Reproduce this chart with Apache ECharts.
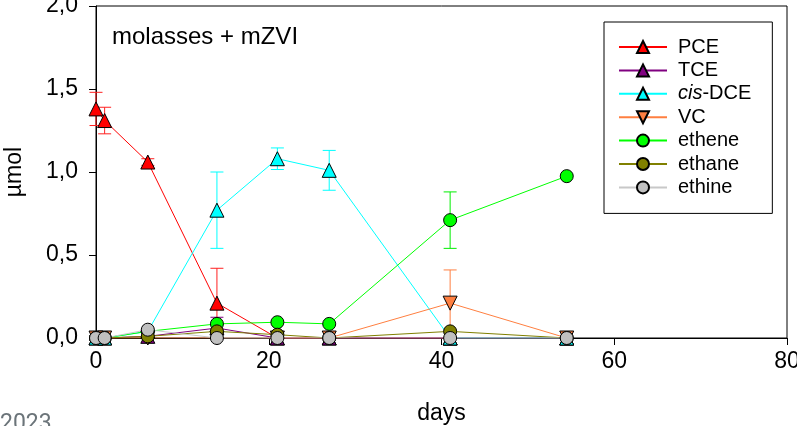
<!DOCTYPE html>
<html>
<head>
<meta charset="utf-8">
<script src="https://cdn.jsdelivr.net/npm/echarts@6/dist/echarts.min.js"></script>
<style>
  html, body { margin: 0; padding: 0; background: #fff; }
  #main { width: 797px; height: 426px; }
</style>
</head>
<body>
<div id="main"></div>
<script>
// sampling days
var days = [0, 1, 6, 14, 21, 27, 41, 54.5];

// mean values (µmol)
var pce    = [1.38, 1.31, 1.06, 0.21, 0.00, 0.00, 0.00, 0.00];
var tce    = [0.00, 0.00, 0.01, 0.06, 0.00, 0.00, 0.00, 0.00];
var cisDce = [0.00, 0.00, 0.04, 0.77, 1.08, 1.01, 0.00, 0.00];
var vc     = [0.00, 0.00, 0.00, 0.00, 0.00, 0.00, 0.21, 0.00];
var ethene = [0.00, 0.00, 0.04, 0.085, 0.095, 0.085, 0.71, 0.975];
var ethane = [0.00, 0.00, 0.01, 0.04, 0.02, 0.00, 0.04, 0.00];
var ethine = [0.00, 0.00, 0.05, 0.00, 0.00, 0.00, 0.00, 0.00];

// standard deviations (0 = no bar)
var pceErr    = [0.10, 0.08, 0.02, 0.21, 0, 0, 0, 0];
var tceErr    = [0, 0, 0, 0.065, 0, 0, 0, 0];
var cisDceErr = [0, 0, 0, 0.23, 0.065, 0.12, 0, 0];
var vcErr     = [0, 0, 0, 0, 0, 0, 0.20, 0];
var etheneErr = [0, 0, 0, 0, 0, 0, 0.17, 0];

var yTicks = [0, 0.5, 1.0, 1.5, 2.0];
var xTicks = [0, 20, 40, 60, 80];

var font = 'Liberation Sans, Arial, sans-serif';

function pairs(vals) {
  return days.map(function (d, i) { return [d, vals[i]]; });
}

function errData(vals, errs) {
  var out = [];
  for (var i = 0; i < days.length; i++) {
    if (errs[i] > 0) out.push([days[i], vals[i] - errs[i], vals[i] + errs[i]]);
  }
  return out;
}

// error bars drawn with a custom series, named apart so the legend ignores them
function errSeries(name, vals, errs, color) {
  return {
    name: name + ' sd',
    type: 'custom',
    data: errData(vals, errs),
    z: 1,
    silent: true,
    renderItem: function (params, api) {
      var x = api.value(0);
      var lo = api.coord([x, api.value(1)]);
      var hi = api.coord([x, api.value(2)]);
      var hw = 6.5;
      var st = { stroke: color, lineWidth: 1 };
      return {
        type: 'group',
        children: [
          { type: 'line', shape: { x1: lo[0], y1: lo[1], x2: hi[0], y2: hi[1] }, style: st },
          { type: 'line', shape: { x1: lo[0] - hw, y1: lo[1], x2: lo[0] + hw, y2: lo[1] }, style: st },
          { type: 'line', shape: { x1: hi[0] - hw, y1: hi[1], x2: hi[0] + hw, y2: hi[1] }, style: st }
        ]
      };
    }
  };
}

function lineSeries(name, vals, lineColor, fill, symbol, size, rotate) {
  return {
    name: name,
    type: 'line',
    data: pairs(vals),
    symbol: symbol,
    symbolSize: size,
    symbolRotate: rotate || 0,
    showAllSymbol: true,
    z: 3,
    color: fill,
    lineStyle: { color: lineColor, width: 1 },
    itemStyle: { color: fill, borderColor: '#000', borderWidth: 1 },
    emphasis: { disabled: true }
  };
}

var chart = echarts.init(document.getElementById('main'));

var option = {
  animation: false,
  backgroundColor: '#fff',
  grid: {
    left: 96, right: 10, top: 6, bottom: 88,
    outerBoundsMode: 'none',
    containLabel: false,
    show: true, borderColor: '#000', borderWidth: 1
  },
  title: [
    { text: 'molasses + mZVI', left: 112, top: 25, padding: 0,
      textStyle: { fontFamily: font, fontSize: 24, fontWeight: 'normal', color: '#000' } },
    { text: '2023', left: 0, top: 413, padding: 0,
      textStyle: { fontFamily: 'Roboto, sans-serif', fontSize: 23, fontWeight: 'normal', color: '#6b7479' } }
  ],
  legend: {
    left: 604, top: 22,
    orient: 'vertical',
    padding: [15, 21, 16, 14],
    itemGap: 3.4,
    itemWidth: 48, itemHeight: 15,
    borderColor: '#000', borderWidth: 1,
    backgroundColor: '#fff',
    data: ['PCE', 'TCE', 'cis-DCE', 'VC', 'ethene', 'ethane', 'ethine'],
    formatter: function (n) { return n === 'cis-DCE' ? '{i|cis}-DCE' : n; },
    textStyle: {
      fontFamily: font, fontSize: 20, color: '#000', padding: [0, 0, 0, 6],
      rich: { i: { fontFamily: font, fontSize: 20, fontStyle: 'italic', color: '#000' } }
    }
  },
  xAxis: {
    type: 'value', min: xTicks[0], max: xTicks[xTicks.length - 1], interval: 20,
    name: 'days', nameLocation: 'middle', nameGap: 64,
    nameTextStyle: { fontFamily: font, fontSize: 23, color: '#000' },
    axisLine: { lineStyle: { color: '#000', width: 1 } },
    axisTick: { length: 7, lineStyle: { color: '#000' } },
    axisLabel: { fontFamily: font, fontSize: 23, color: '#000', margin: 12 },
    splitLine: { show: false }
  },
  yAxis: {
    type: 'value', min: yTicks[0], max: yTicks[yTicks.length - 1], interval: 0.5,
    name: 'µmol', nameLocation: 'middle', nameGap: 70, nameRotate: 90,
    nameTextStyle: { fontFamily: font, fontSize: 23, color: '#000' },
    axisLine: { show: true, lineStyle: { color: '#000', width: 1 } },
    axisTick: { show: true, length: 7, lineStyle: { color: '#000' } },
    axisLabel: {
      fontFamily: font, fontSize: 23, color: '#000', margin: 18,
      formatter: function (v) { return v.toFixed(1).replace('.', ','); }
    },
    splitLine: { show: false }
  },
  series: [
    errSeries('PCE', pce, pceErr, '#ff2020'),
    errSeries('TCE', tce, tceErr, '#800080'),
    errSeries('cis-DCE', cisDce, cisDceErr, '#00ffff'),
    errSeries('VC', vc, vcErr, '#ff7f40'),
    errSeries('ethene', ethene, etheneErr, '#00ee00'),
    lineSeries('PCE', pce, '#ff0000', '#ff0000', 'triangle', 14),
    lineSeries('TCE', tce, '#800080', '#800080', 'triangle', 14),
    lineSeries('cis-DCE', cisDce, '#00ffff', '#00ffff', 'triangle', 14),
    lineSeries('VC', vc, '#ff7f40', '#ff7f40', 'triangle', 14, 180),
    lineSeries('ethene', ethene, '#00ff00', '#00ff00', 'circle', 13),
    lineSeries('ethane', ethane, '#808000', '#808000', 'circle', 13),
    lineSeries('ethine', ethine, '#c8c8c8', '#c0c0c0', 'circle', 13)
  ]
};

chart.setOption(option);
</script>
</body>
</html>
